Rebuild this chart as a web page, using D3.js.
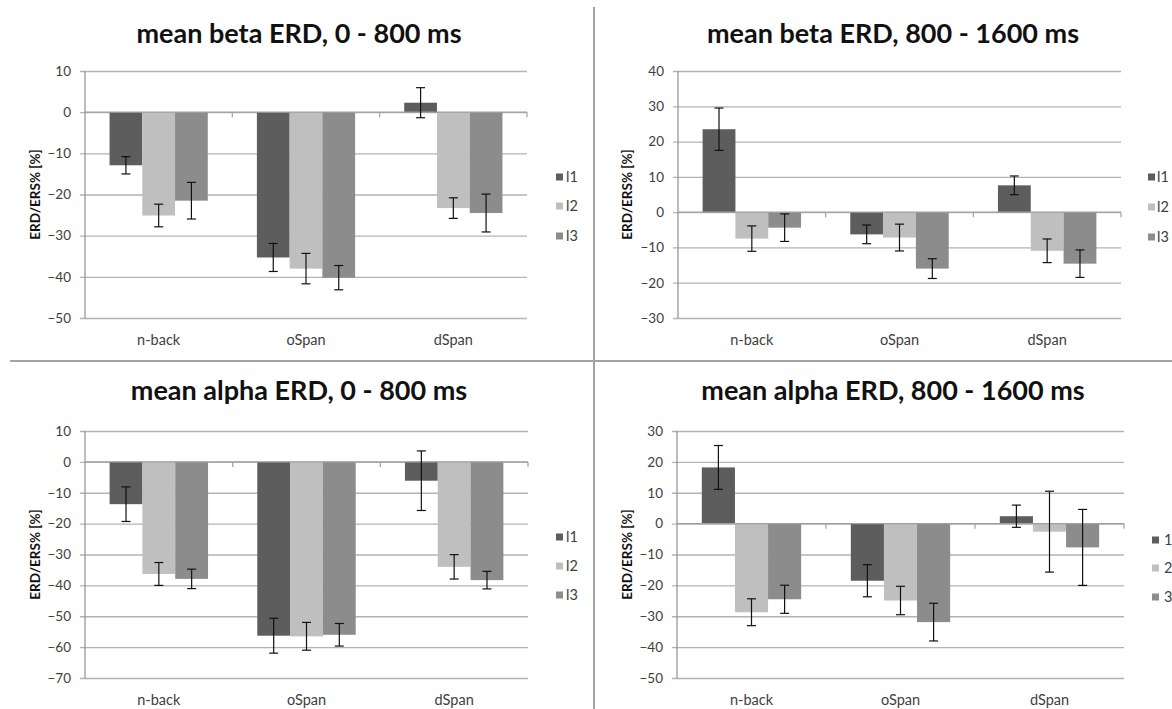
<!DOCTYPE html>
<html><head><meta charset="utf-8">
<script src="https://cdn.jsdelivr.net/npm/d3@7"></script>
<style>
body{margin:0;background:#fff}
svg{display:block}
text{font-family:Lato,"Open Sans",sans-serif}
</style>
</head><body>
<svg id="chart" width="1172" height="709"></svg>
<script>
// ---------- data ----------
const categories = ["n-back", "oSpan", "dSpan"];
const seriesLabels = ["l1", "l2", "l3"];
const seriesLabelsAlphaLate = ["1", "2", "3"];
const panelTitles = ["mean beta ERD, 0 - 800 ms", "mean beta ERD, 800 - 1600 ms",
                     "mean alpha ERD, 0 - 800 ms", "mean alpha ERD, 800 - 1600 ms"];
const yAxisTitle = "ERD/ERS% [%]";

// rows = l1, l2, l3 ; columns = n-back, oSpan, dSpan
const betaEarlyMean = [[-12.9, -35.3, 2.3], [-25.1, -38.0, -23.3], [-21.5, -40.2, -24.5]];
const betaEarlyErr  = [[2.1, 3.4, 3.65], [2.75, 3.7, 2.5], [4.45, 2.95, 4.6]];
const betaLateMean  = [[23.5, -6.3, 7.6], [-7.5, -7.2, -10.95], [-4.4, -16.0, -14.6]];
const betaLateErr   = [[6.0, 2.65, 2.65], [3.6, 3.8, 3.35], [3.9, 2.8, 3.9]];
const alphaEarlyMean = [[-13.7, -56.3, -6.1], [-36.3, -56.5, -34.0], [-37.9, -56.0, -38.3]];
const alphaEarlyErr  = [[5.6, 5.65, 9.65], [3.7, 4.5, 3.95], [3.15, 3.65, 2.85]];
const alphaLateMean  = [[18.2, -18.5, 2.4], [-28.7, -24.9, -2.6], [-24.5, -31.9, -7.7]];
const alphaLateErr   = [[7.1, 5.2, 3.6], [4.35, 4.6, 13.1], [4.55, 6.1, 12.3]];

const ticksBetaEarly  = [10, 0, -10, -20, -30, -40, -50];
const ticksBetaLate   = [40, 30, 20, 10, 0, -10, -20, -30];
const ticksAlphaEarly = [10, 0, -10, -20, -30, -40, -50, -60, -70];
const ticksAlphaLate  = [30, 20, 10, 0, -10, -20, -30, -40, -50];

// ---------- styling ----------
const barColors = ["#5d5d5d", "#bfbfbf", "#8c8c8c"];
const svg = d3.select("#chart");

// separators
svg.append("line").attr("x1", 594).attr("x2", 594).attr("y1", 7).attr("y2", 709)
  .attr("stroke", "#a3a3a3").attr("stroke-width", 2);
svg.append("line").attr("x1", 10).attr("x2", 1172).attr("y1", 361).attr("y2", 361)
  .attr("stroke", "#a3a3a3").attr("stroke-width", 2);

function drawPanel(p) {
  const g = svg.append("g");
  const ticks = p.ticks;
  const y = d3.scaleLinear().domain([d3.min(ticks), d3.max(ticks)]).range([p.y1, p.y0]);
  const x = d3.scaleBand().domain(categories).range([p.x0, p.x1]);
  const bw = x.bandwidth() / 4.5;
  const xs = d3.scaleBand().domain([0, 1, 2]).range([0.75 * bw, 3.75 * bw]);

  // gridlines + y axis
  const yAxis = d3.axisLeft(y).tickValues(ticks).tickSize(-(p.x1 - p.x0)).tickPadding(0).tickFormat(d3.format("d"));
  const ya = g.append("g").attr("transform", `translate(${p.x0},0)`).call(yAxis);
  ya.select(".domain").remove();
  ya.selectAll(".tick line").attr("stroke", "#b3b3b3").attr("stroke-width", 1.3).attr("x1", -5);
  ya.selectAll(".tick text").attr("x", -14).attr("font-size", 13.5).attr("fill", "#404040")
    .attr("font-family", "Lato, sans-serif");
  g.append("line").attr("x1", p.x0).attr("x2", p.x0).attr("y1", p.y0).attr("y2", p.y1)
    .attr("stroke", "#8f8f8f").attr("stroke-width", 1.2);

  // bars
  p.mean.forEach((row, si) => {
    row.forEach((v, ci) => {
      const bx = x(categories[ci]) + xs(si);
      g.append("rect")
        .attr("x", bx).attr("width", xs.bandwidth())
        .attr("y", Math.min(y(v), y(0))).attr("height", Math.abs(y(v) - y(0)))
        .attr("fill", barColors[si]);
    });
  });

  // category axis line at zero with tick marks
  g.append("line").attr("x1", p.x0).attr("x2", p.x1).attr("y1", y(0)).attr("y2", y(0))
    .attr("stroke", "#a0a0a0").attr("stroke-width", 1.3);
  const bounds = categories.map(c => x(c)).concat([p.x1]).slice(1);
  bounds.forEach(bx => {
    g.append("line").attr("x1", bx).attr("x2", bx).attr("y1", y(0)).attr("y2", y(0) + 5)
      .attr("stroke", "#a0a0a0").attr("stroke-width", 1.2);
  });

  // error bars
  p.mean.forEach((row, si) => {
    row.forEach((v, ci) => {
      const cx = x(categories[ci]) + xs(si) + xs.bandwidth() / 2;
      const e = p.err[si][ci];
      const ya1 = y(v + e), ya2 = y(v - e);
      g.append("line").attr("x1", cx).attr("x2", cx).attr("y1", ya1).attr("y2", ya2)
        .attr("stroke", "#111").attr("stroke-width", 1.2);
      [ya1, ya2].forEach(yy => g.append("line").attr("x1", cx - 4.5).attr("x2", cx + 4.5)
        .attr("y1", yy).attr("y2", yy).attr("stroke", "#111").attr("stroke-width", 1.2));
    });
  });

  // category labels
  categories.forEach(c => {
    g.append("text").attr("x", x(c) + x.bandwidth() / 2).attr("y", p.y1 + 27)
      .attr("text-anchor", "middle").attr("font-size", 14.5).attr("fill", "#404040").text(c);
  });

  // title
  g.append("text").attr("x", p.titleX).attr("y", p.titleY).attr("text-anchor", "middle")
    .attr("font-size", 27).attr("font-weight", "bold").attr("fill", "#111").text(p.title);

  // y-axis title
  g.append("text").attr("transform", `translate(${p.yTitleX},${(p.y0 + p.y1) / 2}) rotate(-90)`)
    .attr("text-anchor", "middle").attr("dy", "0.35em").attr("font-size", 13.5)
    .attr("font-weight", "bold").attr("fill", "#111").text(yAxisTitle);

  // legend
  p.legendLabels.forEach((lab, i) => {
    const ly = p.legendY[i];
    g.append("rect").attr("x", p.legendX).attr("y", ly - 3.5).attr("width", 7).attr("height", 7)
      .attr("fill", barColors[i]);
    g.append("text").attr("x", p.legendX + p.legendGap).attr("y", ly).attr("dy", "0.36em")
      .attr("font-size", 14.5).attr("fill", "#404040").text(lab);
  });
}

drawPanel({ mean: betaEarlyMean, err: betaEarlyErr, ticks: ticksBetaEarly, title: panelTitles[0],
  x0: 85, x1: 527, y0: 71, y1: 318, titleX: 299, titleY: 43, yTitleX: 35,
  legendX: 556, legendGap: 10, legendY: [177, 206, 236], legendLabels: seriesLabels });
drawPanel({ mean: betaLateMean, err: betaLateErr, ticks: ticksBetaLate, title: panelTitles[1],
  x0: 678, x1: 1121, y0: 71, y1: 318, titleX: 893, titleY: 43, yTitleX: 627,
  legendX: 1148, legendGap: 9, legendY: [177, 207, 237], legendLabels: seriesLabels });
drawPanel({ mean: alphaEarlyMean, err: alphaEarlyErr, ticks: ticksAlphaEarly, title: panelTitles[2],
  x0: 85, x1: 528, y0: 431, y1: 678, titleX: 299, titleY: 400, yTitleX: 35,
  legendX: 556, legendGap: 10, legendY: [537, 566, 595], legendLabels: seriesLabels });
drawPanel({ mean: alphaLateMean, err: alphaLateErr, ticks: ticksAlphaLate, title: panelTitles[3],
  x0: 677, x1: 1124, y0: 431, y1: 678, titleX: 893, titleY: 400, yTitleX: 627,
  legendX: 1152, legendGap: 12, legendY: [540, 568, 597], legendLabels: seriesLabelsAlphaLate });
</script>
</body></html>
